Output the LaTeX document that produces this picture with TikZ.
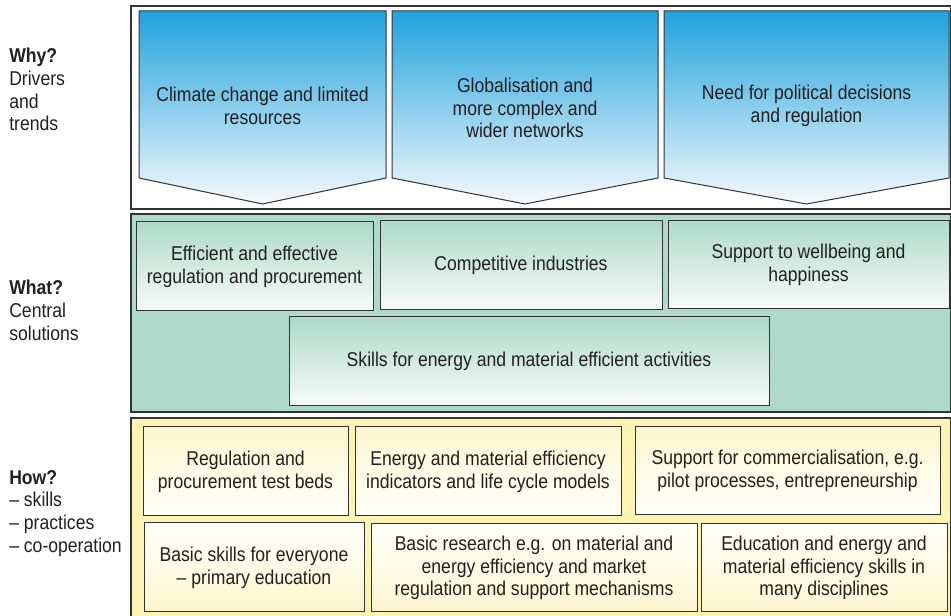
\documentclass[tikz,border=0pt]{standalone}
\usepackage{fontspec}
\setmainfont{Liberation Sans}[FakeStretch=0.88]
\usepackage{tikz}

\definecolor{txtgray}{HTML}{231F20}
\definecolor{framegray}{HTML}{333333}
\definecolor{chevtop}{HTML}{1FA2DC}
\definecolor{chevmid}{HTML}{80B9E4}
\definecolor{chevbot}{HTML}{F6F9FD}
\definecolor{whatgreen}{HTML}{AFD9CA}
\definecolor{whatlight}{HTML}{F7FBF9}
\definecolor{howyellow}{HTML}{FDF3B2}
\definecolor{howcream}{HTML}{FFF6D0}
\definecolor{howwhite}{HTML}{FFFFFA}

\tikzset{
	panel/.style={draw=framegray, line width=0.8pt},
	chevron/.style={draw=framegray, line width=0.75pt, top color=chevtop, middle color=chevmid, bottom color=chevbot},
	solbox/.style={draw=framegray, line width=0.75pt, top color=whatgreen, bottom color=whatlight},
	howtop/.style={draw=framegray, line width=0.75pt, top color=howcream, bottom color=howwhite},
	howbot/.style={draw=framegray, line width=0.75pt, top color=howwhite, bottom color=howcream},
	label/.style={align=center, inner sep=0pt, text=txtgray},
	side/.style={anchor=north west, align=left, inner sep=0pt, text=txtgray}
}

\begin{document}
\begin{tikzpicture}[x=0.75pt, y=-0.75pt, font=\fontsize{15}{17}\selectfont]
			\useasboundingbox (0,0) rectangle (951,616);

			\draw[panel, fill=white] (131,6) rectangle (950.5,209);
			\draw[panel, fill=whatgreen] (131,214) rectangle (950.5,412);
			\draw[panel, fill=howyellow] (131,418) rectangle (950.5,630);

			\node[side] (why) at (9,48) {\textbf{Why?}\\Drivers\\and\\trends};
			\node[side] (what) at (9,280) {\textbf{What?}\\Central\\solutions};
			\node[side] (how) at (9,470) {\textbf{How?}\\– skills\\– practices\\– co-operation};

			\shade[chevron] (139,11) -- (386,11) -- (386,178) -- (262.5,204) -- (139,178) -- cycle;
			\shade[chevron] (392,11) -- (658,11) -- (658,178) -- (525,204) -- (392,178) -- cycle;
			\shade[chevron] (664,11) -- (949,11) -- (949,178) -- (806.5,204) -- (664,178) -- cycle;
			\node[label] (climate) at (262.5,106) {Climate change and limited\\resources};
			\node[label] (global) at (525,108) {Globalisation and\\more complex and\\wider networks};
			\node[label] (political) at (806.5,106) {Need for political decisions\\and regulation};

			\shade[solbox] (136,222) rectangle (373,311);
			\shade[solbox] (380,221) rectangle (662,310);
			\shade[solbox] (668,221) rectangle (949,309);
			\shade[solbox] (289,317) rectangle (769,406);
			\node[label] (effreg) at (254.5,266.5) {Efficient and effective\\regulation and procurement};
			\node[label] (compind) at (521,265.5) {Competitive industries};
			\node[label] (wellbeing) at (808.5,265) {Support to wellbeing and\\happiness};
			\node[label] (skills) at (529,361.5) {Skills for energy and material efficient activities};

			\shade[howtop] (143,427) rectangle (348,516);
			\shade[howtop] (355,427) rectangle (621,516);
			\shade[howtop] (635,427) rectangle (940,515);
			\node[label] (testbeds) at (245.5,471.5) {Regulation and\\procurement test beds};
			\node[label] (indicators) at (488,471.5) {Energy and material efficiency\\indicators and life cycle models};
			\node[label] (commerc) at (787.5,471) {Support for commercialisation, e.g.\\pilot processes, entrepreneurship};

			\shade[howbot] (144,523) rectangle (364,612);
			\shade[howbot] (371,524) rectangle (697,612);
			\shade[howbot] (701,524) rectangle (947,612);
			\node[label] (basicskills) at (254,567.5) {Basic skills for everyone\\– primary education};
			\node[label] (research) at (534,568) {Basic research e.g. on material and\\energy efficiency and market\\regulation and support mechanisms};
			\node[label] (education) at (824,568) {Education and energy and\\material efficiency skills in\\many disciplines};

		\end{tikzpicture}
\end{document}
